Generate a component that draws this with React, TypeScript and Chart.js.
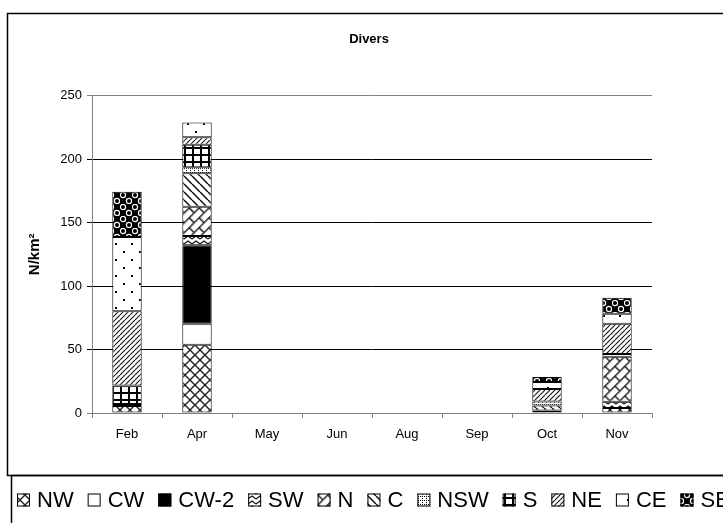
import React, { useEffect, useRef } from 'react';
import { Chart, registerables } from 'chart.js';

Chart.register(...registerables);

const FONT = 'Arial, "Liberation Sans", sans-serif';

const categories = ['Feb', 'Apr', 'May', 'Jun', 'Aug', 'Sep', 'Oct', 'Nov'];
const seriesNames = ['NW', 'CW', 'CW-2', 'SW', 'N', 'C', 'NSW', 'S', 'NE', 'CE', 'SE'];

const NW = [5.5, 53.8, null, null, null, null, 2, 4];
const CW = [null, 16.4, null, null, null, null, null, null];
const CW2 = [1.5, 61.9, null, null, null, null, null, null];
const SW = [null, 7.4, null, null, null, null, null, 4.9];
const N = [null, 22.9, null, null, null, null, null, 35.4];
const C = [null, 26.4, null, null, null, null, 4, null];
const NSW = [null, 4.8, null, null, null, null, 3, 2.1];
const S = [14.6, 17.6, null, null, null, null, null, null];
const NE = [58.5, 6, null, null, null, null, 10, 23.8];
const CE = [58.5, 11.6, null, null, null, null, 5.5, 7.9];
const SE = [35.6, null, null, null, null, null, 3.8, 12.6];

const seriesValues = [NW, CW, CW2, SW, N, C, NSW, S, NE, CE, SE];

const yMin = 0;
const yMax = 250;
const yStep = 50;

function tile(w: number, h: number, draw: (g: CanvasRenderingContext2D) => void) {
  const c = document.createElement('canvas');
  c.width = w;
  c.height = h;
  const g = c.getContext('2d')!;
  g.fillStyle = '#fff';
  g.fillRect(0, 0, w, h);
  draw(g);
  return c;
}

function diag(g: CanvasRenderingContext2D, s: number, dir: 1 | -1) {
  g.beginPath();
  for (let k = -1; k <= 1; k++) {
    if (dir === 1) {
      g.moveTo(k * s, s);
      g.lineTo(k * s + s, 0);
    } else {
      g.moveTo(k * s, 0);
      g.lineTo(k * s + s, s);
    }
  }
  g.stroke();
}

function makeFills(ctx: CanvasRenderingContext2D): (string | CanvasPattern)[] {
  const pat = (c: HTMLCanvasElement, rot?: number) => {
    const p = ctx.createPattern(c, 'repeat')!;
    if (rot && (p as any).setTransform) p.setTransform(new DOMMatrix().rotate(rot));
    return p;
  };
  const nw = tile(10, 10, (g) => {
    g.strokeStyle = '#222';
    g.lineWidth = 1.4;
    diag(g, 10, 1);
    diag(g, 10, -1);
  });
  const sw = tile(8, 5, (g) => {
    g.strokeStyle = '#111';
    g.lineWidth = 1.2;
    g.beginPath();
    g.moveTo(0, 4);
    g.lineTo(4, 1);
    g.lineTo(8, 4);
    g.stroke();
  });
  const n = tile(14, 14, (g) => {
    g.fillStyle = '#222';
    g.fillRect(0, 0, 14, 1.5);
    g.fillRect(0, 7, 14, 1.5);
    g.fillRect(0, 0, 1.5, 7);
    g.fillRect(7, 7, 1.5, 7);
  });
  const c = tile(8, 8, (g) => {
    g.strokeStyle = '#111';
    g.lineWidth = 1.5;
    diag(g, 8, -1);
  });
  const nsw = tile(4, 4, (g) => {
    g.fillStyle = '#000';
    g.fillRect(0, 0, 1, 1);
    g.fillRect(2, 2, 1, 1);
    g.fillRect(2, 0, 1, 1);
  });
  const s = tile(8, 7, (g) => {
    g.fillStyle = '#000';
    g.fillRect(0, 0, 2, 7);
    g.fillRect(0, 0, 8, 2);
  });
  const ne = tile(5, 5, (g) => {
    g.strokeStyle = '#111';
    g.lineWidth = 1.1;
    diag(g, 5, 1);
  });
  const ce = tile(16, 16, (g) => {
    g.fillStyle = '#000';
    g.fillRect(3, 3, 2, 2);
    g.fillRect(11, 11, 2, 2);
  });
  const se = tile(12, 12, (g) => {
    g.fillStyle = '#000';
    g.fillRect(0, 0, 12, 12);
    g.strokeStyle = '#fff';
    g.lineWidth = 1.2;
    g.beginPath();
    g.arc(3, 3, 2.6, 0, Math.PI * 2);
    g.stroke();
    g.beginPath();
    g.arc(9, 9, 2.6, 0, Math.PI * 2);
    g.stroke();
  });
  return [pat(nw), '#ffffff', '#000000', pat(sw), pat(n, -45), pat(c), pat(nsw), pat(s), pat(ne), pat(ce), pat(se)];
}

const framePlugin = {
  id: 'frame',
  beforeDraw(chart: any) {
    const { ctx, width, height } = chart;
    ctx.save();
    ctx.fillStyle = '#fff';
    ctx.fillRect(0, 0, width, height);
    ctx.strokeStyle = '#000';
    ctx.lineWidth = 1.5;
    ctx.strokeRect(7.5, 13.5, width + 20, 462);
    ctx.strokeRect(11.5, 475.5, width + 20, 80);
    ctx.restore();
  },
};

const legendPlugin = {
  id: 'patternLegend',
  afterDraw(chart: any) {
    const { ctx } = chart;
    ctx.save();
    ctx.font = `22px ${FONT}`;
    ctx.textBaseline = 'middle';
    let x = 17;
    const y = 500;
    chart.data.datasets.forEach((ds: any) => {
      ctx.fillStyle = ds.backgroundColor;
      ctx.fillRect(x, y - 6.5, 13, 13);
      ctx.strokeStyle = '#000';
      ctx.lineWidth = 1;
      ctx.strokeRect(x + 0.5, y - 6, 12, 12);
      ctx.fillStyle = '#000';
      ctx.fillText(ds.label, x + 20, y + 1);
      x += 20 + ctx.measureText(ds.label).width + 14;
    });
    ctx.restore();
  },
};

export default function App() {
  const ref = useRef<HTMLCanvasElement | null>(null);

  useEffect(() => {
    const canvas = ref.current!;
    const ctx = canvas.getContext('2d')!;
    const fills = makeFills(ctx);
    const tickFont = { family: FONT, size: 13 };
    const chart = new Chart(canvas, {
      type: 'bar',
      data: {
        labels: categories,
        datasets: seriesNames.map((name, i) => ({
          label: name,
          data: seriesValues[i] as any,
          backgroundColor: fills[i] as any,
          borderColor: '#000',
          borderWidth: 1,
          borderSkipped: false,
          barPercentage: 0.42,
          categoryPercentage: 1,
        })),
      },
      options: {
        responsive: false,
        animation: false,
        layout: { padding: { left: 15, right: 0, top: 0, bottom: 80 } },
        plugins: {
          legend: { display: false },
          tooltip: { enabled: false },
          title: {
            display: true,
            text: 'Divers',
            color: '#000',
            font: { family: FONT, size: 13, weight: 'bold' },
            padding: { top: 32, bottom: 48 },
          },
        },
        scales: {
          x: {
            stacked: true,
            grid: { offset: true, drawOnChartArea: false, tickLength: 5, color: '#808080' },
            border: { color: '#808080' },
            ticks: { font: tickFont, color: '#000', padding: 9 },
            afterFit: (s: any) => {
              s.height = 30;
            },
          },
          y: {
            stacked: true,
            min: yMin,
            max: yMax,
            ticks: { stepSize: yStep, font: tickFont, color: '#000', padding: 5 },
            grid: {
              tickLength: 5,
              color: (c: any) => (c.tick && (c.tick.value === yMax || c.tick.value === yMin) ? '#808080' : '#000'),
            },
            border: { color: '#808080' },
            title: {
              display: true,
              text: 'N/km²',
              color: '#000',
              font: { family: FONT, size: 15, weight: 'bold' },
              padding: { top: 11, bottom: 0 },
            },
            afterFit: (s: any) => {
              s.width = 77;
            },
          },
          y2: {
            position: 'right',
            display: true,
            grid: { display: false },
            ticks: { display: false },
            border: { display: false },
            afterFit: (s: any) => {
              s.width = 71;
            },
          },
        },
      } as any,
      plugins: [framePlugin, legendPlugin],
    });
    return () => chart.destroy();
  }, []);

  return (
    <div style={{ position: 'absolute', left: 0, top: 0, width: 723, height: 523, overflow: 'hidden', background: '#fff' }}>
      <canvas ref={ref} width={723} height={523} style={{ display: 'block' }} />
    </div>
  );
}
